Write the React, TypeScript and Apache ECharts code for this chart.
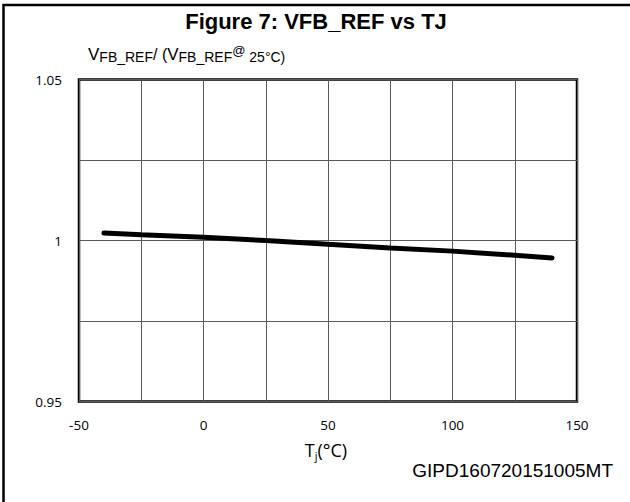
import React, { useEffect, useRef } from "react";
import * as echarts from "echarts";

const temperatures = [-40, -25, 0, 25, 50, 75, 100, 125, 140];
const vfbRatio = [1.0023, 1.0018, 1.001, 1.0, 0.9988, 0.9977, 0.9967, 0.9954, 0.9946];
const xTickLabels = [-50, 0, 50, 100, 150];
const yTickLabels = [0.95, 1, 1.05];

export default function App() {
  const ref = useRef<HTMLDivElement>(null);
  useEffect(() => {
    if (!ref.current) return;
    const chart = echarts.init(ref.current, null, { renderer: "svg" });
    const data = temperatures.map((t, i) => [t, vfbRatio[i]]);
    chart.setOption({
      animation: false,
      backgroundColor: "#fff",
      grid: {
        left: 79,
        right: 53,
        top: 79.5,
        bottom: 100.5,
        show: true,
        borderColor: "#000",
        borderWidth: 2.5,
        backgroundColor: "transparent",
      },
      xAxis: {
        type: "value",
        min: -50,
        max: 150,
        interval: 25,
        axisLine: { show: false },
        axisTick: { show: false },
        splitLine: { show: true, lineStyle: { color: "#5a5a5a", width: 1 } },
        axisLabel: {
          margin: 16,
          fontFamily: "Open Sans",
          fontSize: 13.5,
          color: "#000",
          showMinLabel: true,
          showMaxLabel: true,
          formatter: (v: number) => (xTickLabels.includes(v) ? String(v) : ""),
        },
      },
      yAxis: {
        type: "value",
        min: 0.95,
        max: 1.05,
        interval: 0.025,
        axisLine: { show: false },
        axisTick: { show: false },
        splitLine: { show: true, lineStyle: { color: "#5a5a5a", width: 1 } },
        axisLabel: {
          margin: 17,
          fontFamily: "Open Sans",
          fontSize: 13.5,
          color: "#000",
          showMinLabel: true,
          showMaxLabel: true,
          formatter: (v: number) => {
            const r = parseFloat(v.toFixed(3));
            return yTickLabels.some((y) => Math.abs(y - r) < 1e-6) ? String(r) : "";
          },
        },
      },
      series: [
        {
          type: "line",
          data,
          symbol: "none",
          lineStyle: { color: "#000", width: 5, cap: "round" },
        },
      ],
      graphic: [
        { type: "rect", shape: { x: 3.5, y: 5, width: 700, height: 600 }, style: { fill: "none", stroke: "#000", lineWidth: 2.5 }, silent: true },
        {
          type: "text",
          x: 316,
          y: 21,
          style: {
            text: "Figure 7: VFB_REF vs TJ",
            fontFamily: "Liberation Sans",
            fontWeight: "bold",
            fontSize: 22,
            fill: "#000",
            align: "center",
            verticalAlign: "middle",
          },
        },
        {
          type: "text",
          x: 88,
          y: 54,
          style: {
            text: "{v|V}{s|FB_REF}{n|/ (}{v|V}{s|FB_REF}{a|@}{t| 25°C)}",
            fontFamily: "Liberation Sans",
            fill: "#000",
            align: "left",
            verticalAlign: "middle",
            rich: {
              v: { fontFamily: "Liberation Sans", fontSize: 17, lineHeight: 20, verticalAlign: "middle", fill: "#000" },
              s: { fontFamily: "Liberation Sans", fontSize: 14, lineHeight: 16, verticalAlign: "bottom", fill: "#000" },
              n: { fontFamily: "Liberation Sans", fontSize: 16, lineHeight: 20, verticalAlign: "middle", fill: "#000" },
              a: { fontFamily: "Liberation Sans", fontSize: 13, lineHeight: 13, verticalAlign: "top", fill: "#000" },
              t: { fontFamily: "Liberation Sans", fontSize: 14, lineHeight: 17, verticalAlign: "bottom", fill: "#000" },
            },
          },
        },
        {
          type: "text",
          x: 326,
          y: 450,
          style: {
            text: "{n|T}{s|j}{n|(°C)}",
            fill: "#000",
            align: "center",
            verticalAlign: "middle",
            rich: {
              n: { fontFamily: "Open Sans", fontSize: 18, lineHeight: 22, verticalAlign: "middle", fill: "#000" },
              s: { fontFamily: "Open Sans", fontSize: 11, lineHeight: 11, verticalAlign: "bottom", fill: "#000" },
            },
          },
        },
        {
          type: "text",
          x: 613,
          y: 470,
          style: {
            text: "GIPD160720151005MT",
            fontFamily: "Liberation Sans",
            fontSize: 19,
            fill: "#000",
            align: "right",
            verticalAlign: "middle",
          },
        },
      ],
    });
    return () => chart.dispose();
  }, []);
  return <div ref={ref} style={{ position: "fixed", left: 0, top: 0, width: 630, height: 502 }} />;
}
